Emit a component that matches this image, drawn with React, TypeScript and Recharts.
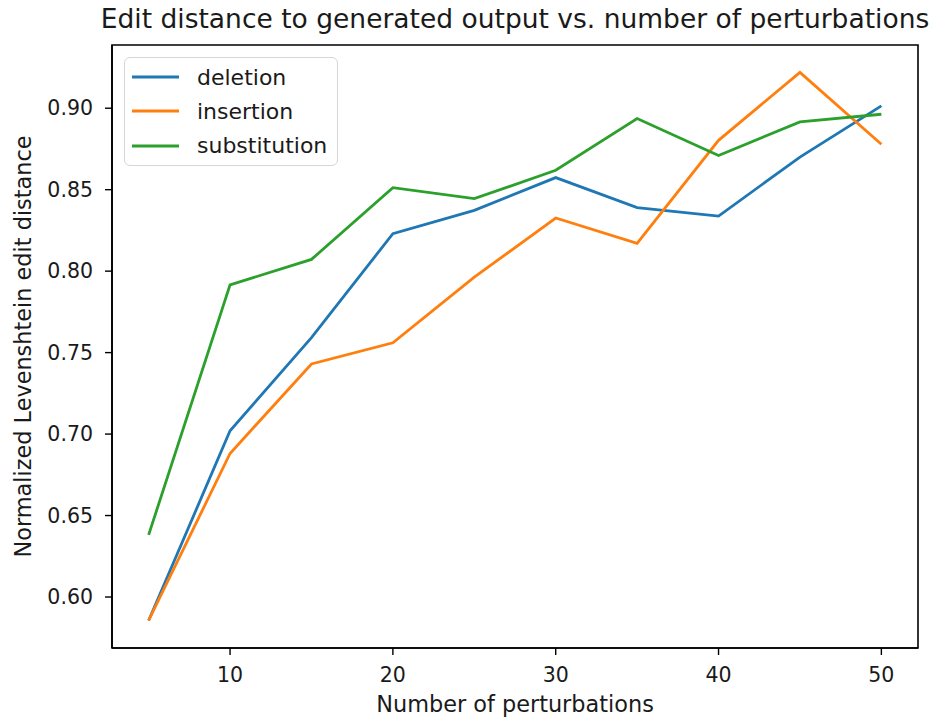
import { Legend, Line, LineChart, ReferenceArea, XAxis, YAxis } from "recharts";

const perturbations = [5, 10, 15, 20, 25, 30, 35, 40, 45, 50];
const deletion = [0.5856, 0.702, 0.7592, 0.823, 0.8373, 0.8574, 0.839, 0.8338, 0.87, 0.9014];
const insertion = [0.5856, 0.6881, 0.743, 0.756, 0.7963, 0.8326, 0.817, 0.8803, 0.922, 0.8779];
const substitution = [0.6381, 0.7916, 0.8072, 0.8512, 0.8445, 0.8619, 0.8937, 0.871, 0.8916, 0.8963];

const xTicks = [10, 20, 30, 40, 50];
const yTicks = [0.6, 0.65, 0.7, 0.75, 0.8, 0.85, 0.9];

// matplotlib-style 5% padding around the data
const X_DOMAIN = [2.75, 52.25];
const Y_DOMAIN = [0.5687, 0.9388];

const SERIES = [
  { key: "deletion", color: "#1f77b4" },
  { key: "insertion", color: "#ff7f0e" },
  { key: "substitution", color: "#2ca02c" },
];

const data = perturbations.map((n, i) => ({
  n,
  deletion: deletion[i],
  insertion: insertion[i],
  substitution: substitution[i],
}));

const FONT = "'DejaVu Sans', sans-serif";
const TEXT = "#1a1a1a";
const tickStyle = { fill: TEXT, fontSize: 20.5, fontFamily: FONT };
const labelStyle = { fill: TEXT, fontSize: 22.4, fontFamily: FONT };

function LegendBox() {
  return (
    <div
      style={{
        width: 214,
        height: 109,
        boxSizing: "border-box",
        border: "1.5px solid #d6d6d6",
        borderRadius: 6,
        background: "rgba(255,255,255,0.8)",
        paddingTop: 2,
        fontFamily: FONT,
        fontSize: 22,
        color: TEXT,
      }}
    >
      {SERIES.map((s) => (
        <div key={s.key} style={{ display: "flex", alignItems: "center", height: 34.3 }}>
          <svg width={66} height={10} style={{ marginLeft: 6 }}>
            <line x1={1} x2={48} y1={5} y2={5} stroke={s.color} strokeWidth={2.8} />
          </svg>
          <span>{s.key}</span>
        </div>
      ))}
    </div>
  );
}

export default function App() {
  return (
    <div
      style={{
        position: "absolute",
        left: 0,
        top: 0,
        width: 943,
        height: 721,
        background: "#fff",
        fontFamily: FONT,
      }}
    >
      <div
        style={{
          position: "absolute",
          left: 65,
          width: 900,
          top: 5.5,
          textAlign: "center",
          fontSize: 26.5,
          lineHeight: 1,
          color: TEXT,
          whiteSpace: "nowrap",
        }}
      >
        Edit distance to generated output vs. number of perturbations
      </div>
      <LineChart
        width={943}
        height={721}
        data={data}
        margin={{ top: 45, right: 25, left: 0, bottom: 0 }}
      >
        <XAxis
          dataKey="n"
          type="number"
          domain={X_DOMAIN}
          ticks={xTicks}
          allowDataOverflow
          height={73}
          tick={tickStyle}
          tickSize={7}
          tickMargin={12}
          axisLine={{ stroke: "#000", strokeWidth: 1.6 }}
          tickLine={{ stroke: "#000", strokeWidth: 1.4 }}
          label={{
            value: "Number of perturbations",
            position: "insideBottom",
            offset: 9,
            style: labelStyle,
          }}
        />
        <YAxis
          type="number"
          domain={Y_DOMAIN}
          ticks={yTicks}
          allowDataOverflow
          width={112}
          tick={tickStyle}
          tickFormatter={(v: number) => v.toFixed(2)}
          tickSize={7}
          tickMargin={12}
          axisLine={{ stroke: "#000", strokeWidth: 1.6 }}
          tickLine={{ stroke: "#000", strokeWidth: 1.4 }}
          label={{
            value: "Normalized Levenshtein edit distance",
            angle: -90,
            position: "insideLeft",
            offset: 23,
            style: { ...labelStyle, textAnchor: "middle" },
          }}
        />
        {/* plot frame (top/right spines) */}
        <ReferenceArea
          x1={X_DOMAIN[0]}
          x2={X_DOMAIN[1]}
          y1={Y_DOMAIN[0]}
          y2={Y_DOMAIN[1]}
          fill="none"
          fillOpacity={0}
          stroke="#000"
          strokeWidth={1.6}
          ifOverflow="visible"
        />
        <Legend
          layout="vertical"
          align="center"
          verticalAlign="middle"
          content={() => <LegendBox />}
          wrapperStyle={{ position: "absolute", left: 124, top: 57, width: 214, height: 109 }}
        />
        {SERIES.map((s) => (
          <Line
            key={s.key}
            dataKey={s.key}
            stroke={s.color}
            strokeWidth={2.8}
            dot={false}
            activeDot={false}
            isAnimationActive={false}
          />
        ))}
      </LineChart>
    </div>
  );
}
